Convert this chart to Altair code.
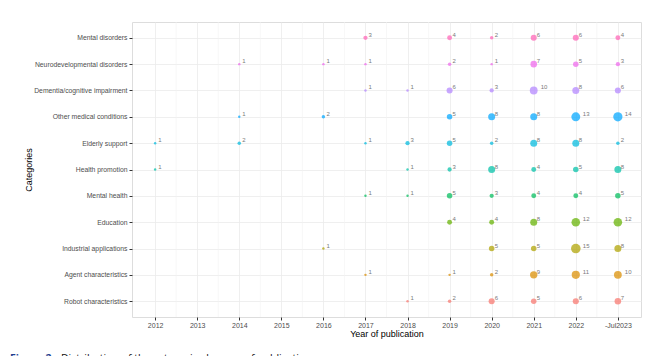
import altair as alt
import pandas as pd

years = [2012, 2013, 2014, 2015, 2016, 2017, 2018, 2019, 2020, 2021, 2022, 2023]
categories = [
    "Mental disorders",
    "Neurodevelopmental disorders",
    "Dementia/cognitive impairment",
    "Other medical conditions",
    "Elderly support",
    "Health promotion",
    "Mental health",
    "Education",
    "Industrial applications",
    "Agent characteristics",
    "Robot characteristics",
]
mental_disorders = [0, 0, 0, 0, 0, 3, 0, 4, 2, 6, 6, 4]
neurodevelopmental = [0, 0, 1, 0, 1, 1, 0, 2, 1, 7, 5, 3]
dementia = [0, 0, 0, 0, 0, 1, 1, 6, 3, 10, 8, 6]
other_medical = [0, 0, 1, 0, 2, 0, 0, 5, 8, 8, 13, 14]
elderly_support = [1, 0, 2, 0, 0, 1, 3, 5, 2, 8, 8, 2]
health_promotion = [1, 0, 0, 0, 0, 0, 1, 3, 8, 4, 5, 8]
mental_health = [0, 0, 0, 0, 0, 1, 1, 5, 3, 4, 4, 5]
education = [0, 0, 0, 0, 0, 0, 0, 4, 4, 8, 12, 12]
industrial = [0, 0, 0, 0, 1, 0, 0, 0, 5, 5, 15, 8]
agent = [0, 0, 0, 0, 0, 1, 0, 1, 2, 9, 11, 10]
robot = [0, 0, 0, 0, 0, 0, 1, 2, 6, 5, 6, 7]

series = [mental_disorders, neurodevelopmental, dementia, other_medical,
          elderly_support, health_promotion, mental_health, education,
          industrial, agent, robot]

# ggplot default hue palette, first level = bottom category
hue = ["#F8766D", "#DB8E00", "#AEA200", "#64B200", "#00BD5C", "#00C1A7",
       "#00BADE", "#00A6FF", "#B385FF", "#EF67EB", "#FF63B6"]
color_domain = list(reversed(categories))

rows = []
for cat, vals in zip(categories, series):
    for yr, v in zip(years, vals):
        if v > 0:
            rows.append({"year": yr, "category": cat, "n": v})
df = pd.DataFrame(rows)

half_years = [y + 0.5 for y in years[:-1]]

xscale = alt.Scale(domain=[2011.45, 2023.55], nice=False, zero=False)
yscale = alt.Scale(domain=categories, padding=0.6)

FONT = "Liberation Sans"

x_axis = alt.Axis(
    values=years,
    labelExpr="datum.value == 2023 ? '-Jul2023' : datum.value",
    format="d",
    grid=True,
    gridColor="#EBEBEB",
    gridWidth=0.8,
    domain=False,
    tickColor="#333333",
    tickSize=3,
    labelFontSize=7,
    labelColor="#4D4D4D",
    labelFont=FONT,
    labelPadding=1,
    titleFontSize=9,
    titleFont=FONT,
    titleFontWeight="normal",
    titleColor="#000000",
    titlePadding=1,
)
y_axis = alt.Axis(
    grid=True,
    gridColor="#EBEBEB",
    gridWidth=0.8,
    domain=False,
    tickColor="#333333",
    tickSize=3,
    labelFontSize=6.8,
    labelColor="#4D4D4D",
    labelFont=FONT,
    labelPadding=2,
    titleFontSize=9,
    titleFont=FONT,
    titleFontWeight="normal",
    titleColor="#000000",
    titlePadding=0,
)

xenc = alt.X("year:Q", scale=xscale, title="Year of publication", axis=x_axis)
yenc = alt.Y("category:N", scale=yscale, title="Categories", axis=y_axis)

base = alt.Chart(df)

# minor grid (half-years), drawn under the points
minor = alt.Chart(pd.DataFrame({"year": half_years})).mark_rule(
    color="#F1F1F1", strokeWidth=0.6
).encode(x=xenc)

points = base.mark_circle(opacity=0.72).encode(
    x=xenc,
    y=yenc,
    color=alt.Color("category:N",
                    scale=alt.Scale(domain=color_domain, range=hue),
                    legend=None),
    size=alt.Size("n:Q", scale=alt.Scale(domain=[1, 15], range=[6, 92], zero=False),
                  legend=None),
)

labels_single = base.transform_filter("datum.n < 10").mark_text(
    align="left", baseline="middle", dx=3, dy=-3, fontSize=6, color="#7A7A7A", font=FONT
).encode(x=xenc, y=yenc, text="n:Q")
labels_double = base.transform_filter("datum.n >= 10").mark_text(
    align="left", baseline="middle", dx=7, dy=-3, fontSize=6, color="#7A7A7A", font=FONT
).encode(x=xenc, y=yenc, text="n:Q")

cap_df = pd.DataFrame({"a": ["Figure 2."], "b": ["Distribution of the categories by year of publication"]})
cap1 = alt.Chart(cap_df).mark_text(
    align="left", baseline="alphabetic", fontSize=10.5, fontWeight="bold",
    color="#1F3F8F", font="Open Sans", clip=False
).encode(text="a:N", x=alt.value(-122), y=alt.value(340))
cap2 = alt.Chart(cap_df).mark_text(
    align="left", baseline="alphabetic", fontSize=10.5,
    color="#111111", font="Open Sans", clip=False
).encode(text="b:N", x=alt.value(-71), y=alt.value(340))

chart = alt.layer(minor, points, labels_single, labels_double, cap1, cap2).properties(
    width=509, height=295,
    autosize=alt.AutoSizeParams(type="none"),
    padding={"left": 124, "top": 14, "right": 5, "bottom": 40},
).configure_view(
    stroke="#7F7F7F", strokeWidth=1
).configure(background="white")

chart.save("out.html", embed_options={"renderer": "svg", "actions": False})
